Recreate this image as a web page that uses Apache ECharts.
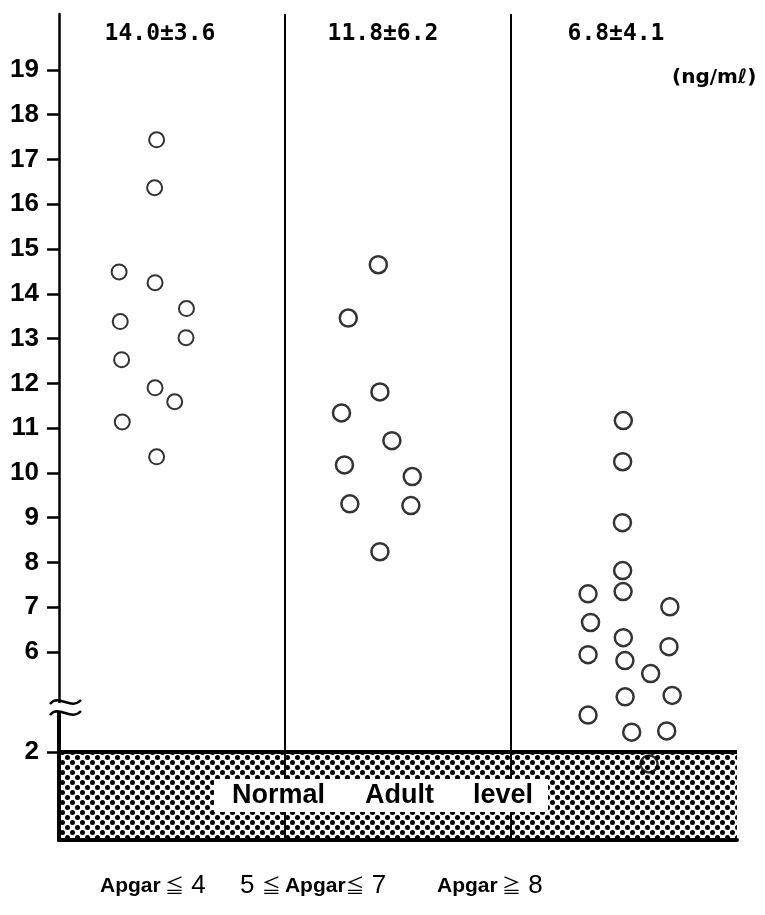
<!DOCTYPE html>
<html><head><meta charset="utf-8">
<script src="https://cdn.jsdelivr.net/npm/echarts@6/dist/echarts.min.js"></script>
<style>html,body{margin:0;padding:0;background:#fff}#c{width:765px;height:915px}</style>
</head><body><div id="c"></div>
<script>
// ---- data ----
const groupLabels = [['Apgar', '≦', '4', ''], ['5', '≦', 'Apgar', '≦ 7'], ['Apgar', '≧', '8', '']];
const summaries = ['14.0±3.6', '11.8±6.2', '6.8±4.1'];
const unitLabel = '(ng/mℓ)';
const normalWords = ['Normal', 'Adult', 'level'];
const normalRange = [0, 2];
const upperTicks = [6, 7, 8, 9, 10, 11, 12, 13, 14, 15, 16, 17, 18, 19];
const lowerTicks = [2];
const axisBreak = [3, 4.75];      // values between these are cut out of the axis
const upperMax = 20.25;

// x = position across the three columns (column k spans k-1..k), y = ng/ml
const g1X = [0.432, 0.423, 0.266, 0.425, 0.564, 0.271, 0.562, 0.277, 0.425, 0.512, 0.280, 0.432];
const g1Y = [17.44, 16.37, 14.49, 14.25, 13.67, 13.38, 13.02, 12.53, 11.90, 11.59, 11.14, 10.36];
const g2X = [1.413, 1.280, 1.420, 1.250, 1.473, 1.263, 1.563, 1.287, 1.557, 1.420];
const g2Y = [14.65, 13.46, 11.81, 11.34, 10.72, 10.18, 9.92, 9.31, 9.27, 8.24];
const g3X = [2.497, 2.494, 2.493, 2.494, 2.496, 2.341, 2.703, 2.352, 2.497, 2.699, 2.341, 2.504, 2.618, 2.505, 2.713, 2.341, 2.534, 2.689, 2.611];
const g3Y = [11.17, 10.25, 8.89, 7.82, 7.35, 7.30, 7.01, 6.66, 6.32, 6.12, 5.94, 5.81, 5.52, 5.00, 5.03, 2.84, 2.45, 2.48, 1.73];

// ---- build ----
function pts(xs, ys, upper) {
  const out = [];
  xs.forEach((x, i) => {
    const y = ys[i];
    if (upper ? y >= axisBreak[1] : y <= axisBreak[0]) out.push([x, y]);
  });
  return out;
}
const pat = document.createElement('canvas');
pat.width = 10; pat.height = 10;
(function () {
  const c = pat.getContext('2d');
  c.fillStyle = '#000';
  [[2.5, 2.5], [7.5, 7.5]].forEach(p => { c.beginPath(); c.arc(p[0], p[1], 2.5, 0, Math.PI * 2); c.fill(); });
})();

const L = 59, W = 678, TOP = 14, UH = 694, LH = 132;
const chart = echarts.init(document.getElementById('c'), null, { renderer: 'canvas' });
const symStyle = (bw) => ({ color: 'rgba(255,255,255,0)', borderColor: '#000', borderWidth: bw });
const xAx = (idx, showLine) => ({
  type: 'value', gridIndex: idx, min: 0, max: 3, interval: 1,
  axisLabel: { show: false }, axisTick: { show: false },
  axisLine: { show: showLine, onZero: false, lineStyle: { color: '#000', width: 4 } },
  splitLine: { show: true, showMinLine: false, showMaxLine: false, lineStyle: { color: '#000', width: 2 } }
});
const yLabel = { color: '#000', fontFamily: 'Liberation Sans, Arial, sans-serif', fontWeight: 'bold', fontSize: 26, margin: 20 };
const option = {
  animation: false,
  backgroundColor: '#fff',
  grid: [
    { left: L, top: TOP, width: W, height: UH },
    { left: L, top: TOP + UH, width: W, height: LH }
  ],
  xAxis: [xAx(0, false), xAx(1, true)],
  yAxis: [
    { type: 'value', gridIndex: 0, min: axisBreak[1], max: upperMax, splitLine: { show: false },
      axisLine: { show: true, lineStyle: { color: '#000', width: 2.5 } },
      axisTick: { show: true, inside: false, length: 12, customValues: upperTicks, lineStyle: { color: '#000', width: 2.5 } },
      axisLabel: Object.assign({ customValues: upperTicks }, yLabel) },
    { type: 'value', gridIndex: 1, min: 0, max: axisBreak[0], splitLine: { show: false },
      axisLine: { show: true, lineStyle: { color: '#000', width: 4 } },
      axisTick: { show: true, inside: false, length: 12, customValues: lowerTicks, lineStyle: { color: '#000', width: 2.5 } },
      axisLabel: Object.assign({ customValues: lowerTicks }, yLabel) }
  ],
  series: [
    { type: 'scatter', xAxisIndex: 1, yAxisIndex: 1, data: [], z: 1,
      markArea: { silent: true, itemStyle: { color: { image: pat, repeat: 'repeat' } },
        data: [[{ xAxis: 0, yAxis: normalRange[0] }, { xAxis: 3, yAxis: normalRange[1] }]] },
      markLine: { silent: true, symbol: ['none', 'none'], label: { show: false },
        lineStyle: { color: '#000', width: 4, type: 'solid' }, data: [{ yAxis: normalRange[1] }] } },
    { type: 'scatter', xAxisIndex: 0, yAxisIndex: 0, data: pts(g1X, g1Y, true), symbolSize: 15, itemStyle: symStyle(2), z: 5 },
    { type: 'scatter', xAxisIndex: 0, yAxisIndex: 0, data: pts(g2X, g2Y, true), symbolSize: 17, itemStyle: symStyle(2.5), z: 5 },
    { type: 'scatter', xAxisIndex: 0, yAxisIndex: 0, data: pts(g3X, g3Y, true), symbolSize: 17, itemStyle: symStyle(2.5), z: 5 },
    { type: 'scatter', xAxisIndex: 1, yAxisIndex: 1, data: pts(g3X, g3Y, false), symbolSize: 17, itemStyle: symStyle(2.5), z: 5 }
  ],
  graphic: []
};
const g = option.graphic;
const sumX = [160, 383, 616];
summaries.forEach((s, i) => g.push({ type: 'text', x: sumX[i], y: 34, z: 10,
  style: { text: s, fill: '#000', font: 'bold 23px "DejaVu Sans Mono", monospace', textAlign: 'center', textVerticalAlign: 'middle' } }));
g.push({ type: 'text', x: 672, y: 78, z: 10,
  style: { text: unitLabel, fill: '#000', font: 'bold 20px "DejaVu Sans", sans-serif', textAlign: 'left', textVerticalAlign: 'middle' } });
// break mark on the axis
g.push({ type: 'rect', z: 20, shape: { x: 50, y: 703, width: 24, height: 8 }, style: { fill: '#fff' } });
[702, 713].forEach(yy => g.push({ type: 'bezierCurve', z: 21,
  shape: { x1: 50, y1: yy + 2, cpx1: 59, cpy1: yy - 9, cpx2: 71, cpy2: yy + 9, x2: 81, y2: yy - 2 },
  style: { stroke: '#000', lineWidth: 2.5, fill: null } }));
// normal adult level box
g.push({ type: 'rect', z: 20, shape: { x: 214, y: 779, width: 334, height: 33 }, style: { fill: '#fff' } });
const wordX = [232, 365, 473];
normalWords.forEach((w, i) => g.push({ type: 'text', x: wordX[i], y: 796, z: 21,
  style: { text: w, fill: '#000', font: 'bold 27px "Liberation Sans", Arial, sans-serif', textAlign: 'left', textVerticalAlign: 'middle' } }));
// group labels
const grpX = [100, 240, 437];
groupLabels.forEach((parts, i) => {
  let rich;
  if (i === 1) rich = '{n|' + parts[0] + ' }{s|' + parts[1] + ' }{b|' + parts[2] + '}{s|' + parts[3].split(' ')[0] + '}{n| ' + parts[3].split(' ')[1] + '}';
  else rich = '{b|' + parts[0] + '}{s| ' + parts[1] + '}{n| ' + parts[2] + '}';
  g.push({ type: 'text', x: grpX[i], y: 886, z: 10,
    style: { text: rich, textAlign: 'left', textVerticalAlign: 'middle',
      rich: {
        b: { fontFamily: 'Liberation Sans, Arial, sans-serif', fontWeight: 'bold', fontSize: 21, fill: '#000' },
        s: { fontFamily: '"Noto Sans CJK JP", sans-serif', fontSize: 19, fill: '#000' },
        n: { fontFamily: 'Liberation Sans, Arial, sans-serif', fontSize: 26, fill: '#000' }
      } } });
});
chart.setOption(option);
</script></body></html>
